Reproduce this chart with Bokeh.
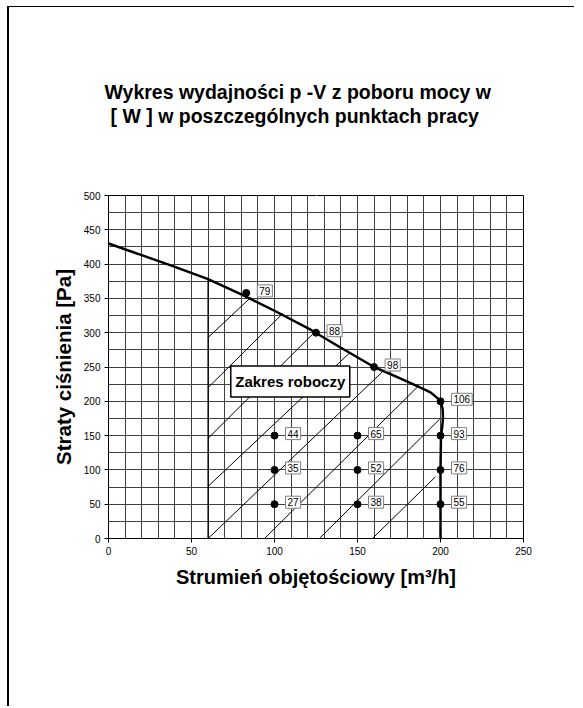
from bokeh.plotting import figure
from bokeh.models import ColumnDataSource, Label, FixedTicker, Title, LinearAxis
from bokeh.core.properties import value
from bokeh.embed import file_html
from bokeh.resources import INLINE

# ---- data ----
curve_x = [0, 20, 40, 60, 80, 100, 122, 140, 160, 175, 187, 194, 198, 200.5, 201.3, 201.5, 201, 200.3, 200, 200]
curve_y = [430, 413, 396, 378, 356, 332, 304, 278, 250, 234, 221, 213, 205, 197, 188, 176, 162, 150, 100, 0]

point_x = [83, 125, 160, 200, 100, 150, 200, 100, 150, 200, 100, 150, 200]
point_y = [358, 300, 250, 200, 150, 150, 150, 100, 100, 100, 50, 50, 50]
point_power = ["79", "88", "98", "106", "44", "65", "93", "35", "52", "76", "27", "38", "55"]

hatch_x0 = [60, 60, 60, 60, 60, 94, 127, 159]
hatch_y0 = [293, 220, 146, 76, 0, 0, 0, 0]
hatch_x1 = [86, 105, 123, 145, 165, 187, 199.5, 197]
hatch_y1 = [352, 328, 298, 270, 243, 223, 174, 90]

area_x = [60, 60]
area_y = [0, 378]

area_label = "Zakres roboczy"
area_label_x = 109.5
area_label_y = 229

x_ticks = [0, 50, 100, 150, 200, 250]
y_ticks = list(range(0, 501, 50))
x_grid = list(range(0, 251, 10))
y_grid = list(range(0, 501, 25))

title_1 = "Wykres wydajności p -V z  poboru mocy w"
title_2 = "[ W ] w poszczególnych punktach pracy"
x_label = "Strumień objętościowy [m³/h]"
y_label = "Straty ciśnienia [Pa]"

FONT = "Liberation Sans"

p = figure(width=567, height=700, x_range=(0, 250), y_range=(0, 500),
           output_backend="svg", toolbar_location=None, title=None,
           min_border_left=99, min_border_right=53, min_border_top=188, min_border_bottom=169)
p.background_fill_color = "white"
p.border_fill_color = "white"
p.outline_line_color = "black"
p.outline_line_width = 1

# grid
p.xgrid.ticker = FixedTicker(ticks=x_grid)
p.ygrid.ticker = FixedTicker(ticks=y_grid)
for g in (p.xgrid, p.ygrid):
    g.grid_line_color = "#404040"
    g.grid_line_width = 1
    g.grid_line_alpha = 1

# axes
p.xaxis.ticker = FixedTicker(ticks=x_ticks)
p.yaxis.ticker = FixedTicker(ticks=y_ticks)
for ax in (p.xaxis, p.yaxis):
    ax.axis_line_color = "black"
    ax.major_tick_line_color = "black"
    ax.major_tick_out = 4
    ax.major_tick_in = 0
    ax.minor_tick_line_color = None
    ax.major_label_text_font = FONT
    ax.major_label_text_font_size = "10px"
    ax.major_label_text_color = "black"
    ax.major_label_standoff = 4
    ax.axis_label_text_font = FONT
    ax.axis_label_text_font_style = "bold"
    ax.axis_label_text_color = "black"
p.xaxis.axis_label = x_label
p.yaxis.axis_label = y_label
p.xaxis.axis_label_text_font_size = "20px"
p.yaxis.axis_label_text_font_size = "20.5px"
p.xaxis.axis_label_standoff = 8
p.yaxis.axis_label_standoff = 6

# blank band between the plot frame and the two-line title (white tick, empty label)
spacer = LinearAxis(ticker=FixedTicker(ticks=[125]), axis_line_color=None,
                    major_tick_line_color="white", minor_tick_line_color=None,
                    major_tick_out=69, major_tick_in=0, minor_tick_out=0,
                    major_label_standoff=0, major_label_overrides={125: ""},
                    major_label_text_font_size="1px", axis_label=None)
p.add_layout(spacer, "above")

t2 = Title(text=title_2, align="left", offset=2, text_font=FONT, text_font_size="19.5px",
           text_font_style="bold", text_color="black", standoff=0)
t1 = Title(text=title_1, align="left", offset=-4, text_font=FONT, text_font_size="19.5px",
           text_font_style="bold", text_color="black", standoff=0)
p.add_layout(t2, "above")
p.add_layout(t1, "above")

# hatch lines
p.segment(x0=hatch_x0, y0=hatch_y0, x1=hatch_x1, y1=hatch_y1, line_color="black", line_width=1)
p.line(area_x, area_y, line_color="black", line_width=1.3)

# curve
p.line(curve_x, curve_y, line_color="black", line_width=2.5)

# points with boxed power labels
src = ColumnDataSource(dict(x=point_x, y=point_y, t=point_power))
p.scatter("x", "y", source=src, size=7, color="black")
p.text(x="x", y="y", text="t", source=src, x_offset=11, y_offset=-2,
       text_baseline="middle", text_align="left",
       text_font=value(FONT), text_font_size="10px", text_color="black",
       border_line_color="#808080", border_line_width=1,
       background_fill_color="white", padding=2)

# working-area label box
p.rect(x=[area_label_x], y=[area_label_y], width=119, height=31,
       width_units="screen", height_units="screen",
       fill_color="white", line_color="black", line_width=1.5)
p.add_layout(Label(x=area_label_x, y=area_label_y, text=area_label, text_align="center",
                   text_baseline="middle", text_font=FONT, text_font_size="15px",
                   text_font_style="bold", text_color="black"))

p.styles = {"border-left": "2px solid black", "border-top": "1px solid black",
            "margin-left": "7px", "margin-top": "6px"}

open("out.html", "w").write(file_html(p, INLINE))
